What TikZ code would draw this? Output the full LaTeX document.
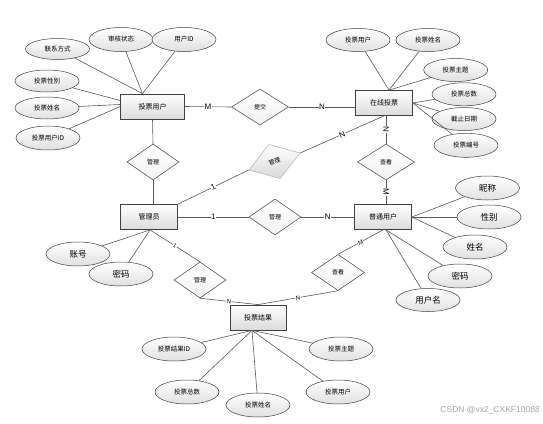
\documentclass[tikz,border=0pt]{standalone}
\usepackage{fontspec}
\setmainfont{Liberation Sans}
\newfontfamily\cjk{Noto Sans CJK SC}
\usetikzlibrary{shapes.geometric,calc}
\definecolor{lc}{HTML}{595959}
\definecolor{bc}{HTML}{404040}
\tikzset{
 ent/.style={draw=bc, line width=0.8pt, top color=white, bottom color=black!14, minimum width=57pt, minimum height=25pt, inner sep=0pt, font=\cjk\fontsize{7}{8}\selectfont},
 attr/.style={ellipse, draw=bc, line width=0.5pt, top color=white, bottom color=black!12, minimum width=64pt, minimum height=23pt, inner sep=0pt, font=\cjk\fontsize{6.5}{7}\selectfont},
 attrb/.style={attr, font=\cjk\fontsize{8.5}{9}\selectfont},
 rel/.style={diamond, draw=bc, line width=0.5pt, top color=white, bottom color=black!5, minimum width=54pt, minimum height=36pt, inner sep=0pt, font=\cjk\fontsize{6}{7}\selectfont},
 greyrel/.style={rel, draw=black!30, top color=white, bottom color=black!15},
 ln/.style={draw=lc, line width=0.6pt},
 card/.style={fill=white, inner sep=0.5pt, font=\fontsize{8}{9}\selectfont, sloped},
 cards/.style={card, font=\fontsize{6}{7}\selectfont},
}
\begin{document}
\begin{tikzpicture}[x=1pt,y=-1pt]
\path[fill=white] (0,0) rectangle (543,423);
\useasboundingbox (0,0) rectangle (543,423);

% entities
\node[ent, minimum width=64pt] (vu) at (152.5,106.5) {投票用户};
\node[ent] (zx) at (384,103) {在线投票};
\node[ent] (gly) at (149,217) {管理员};
\node[ent] (pt) at (383,217) {普通用户};
\node[ent, minimum width=56pt] (jg) at (258,317.5) {投票结果};

% relations
\node[rel, minimum width=57pt] (tj) at (260,107) {提交};
\node[rel, minimum width=52pt] (gl1) at (153,162) {管理};
\node[greyrel, rotate=18.4] (gl2) at (274.5,161.5) {管理};
\node[rel, minimum width=52pt] (gl3) at (275,217) {管理};
\node[rel, minimum width=52pt] (gl4) at (200,280) {管理};
\node[rel, minimum width=57pt] (ck1) at (386,162) {查看};
\node[rel, minimum width=53pt] (ck2) at (338,272.5) {查看};

% relationship connectors
\draw[ln] (vu.east) -- node[card]{M} (tj.west);
\draw[ln] (tj.east) -- node[card]{N} (tj.east -| zx.west);
\draw[ln] (vu.south) -- (gl1.north);
\draw[ln] (gl1.south) -- (gl1.south |- gly.north);
\draw[ln] (gly.north east) -- node[card]{1} (gl2.west);
\draw[ln] (gl2.east) -- node[card]{N} (zx.south);
\draw[ln] (gly.east) -- node[card]{1} (gl3.west);
\draw[ln] (gl3.east) -- node[card]{N} (pt.west);
\draw[ln] (ck1.north |- zx.south) -- node[card]{N} (ck1.north);
\draw[ln] (ck1.south) -- node[card]{M} (ck1.south |- pt.north);
\draw[ln] ([xshift=1pt]gly.south) -- node[cards]{1} (gl4.north);
\draw[ln] (gl4.south) -- node[cards]{N} (jg.north);
\draw[ln] (pt.south) -- node[cards]{M} (ck2.north);
\draw[ln] (ck2.south) -- node[cards]{N} (jg.north);

% attributes of 投票用户
\node[attr, minimum height=21pt] (a1) at (57.5,49) {联系方式};
\node[attr, minimum height=24pt] (a2) at (121,39.5) {审核状态};
\node[attr, minimum height=24pt] (a3) at (184,39.5) {用户ID};
\node[attr, minimum height=22pt] (a4) at (47,81) {投票性别};
\node[attr, minimum height=22pt] (a5) at (47,108) {投票姓名};
\node[attr, minimum height=24pt] (a6) at (48,138) {投票用户ID};
\draw[ln] (a1) -- ([xshift=-10pt]vu.north);
\draw[ln] (a2) -- ([xshift=-10pt]vu.north);
\draw[ln] (a3) -- ([xshift=-10pt]vu.north);
\draw[ln] (a4) -- ([yshift=6pt]vu.west);
\draw[ln] (a5) -- ([yshift=2pt]vu.west);
\draw[ln] (a6) -- (vu.west);

% attributes of 在线投票
\node[attr] (b1) at (358,40) {投票用户};
\node[attr] (b2) at (428,40) {投票姓名};
\node[attr] (b3) at (455.7,70) {投票主题};
\node[attr] (b4) at (464,94.3) {投票总数};
\node[attr] (b5) at (464,119) {截止日期};
\node[attr, minimum height=24pt] (b6) at (466,145.3) {投票编号};
\draw[ln] (b1) -- ([xshift=5pt]zx.north);
\draw[ln] (b2) -- ([xshift=5pt]zx.north);
\draw[ln] (b3) -- ([xshift=5pt]zx.north);
\draw[ln] (b4) -- (zx.east);
\draw[ln] (b5) -- (zx.east);
\draw[ln] (b6) -- (zx.east);

% attributes of 管理员
\node[attrb, minimum height=24pt] (c1) at (78,254) {账号};
\node[attrb, minimum height=24pt] (c2) at (121,274) {密码};
\draw[ln] (c1) -- ([xshift=1pt]gly.south);
\draw[ln] (c2) -- ([xshift=1pt]gly.south);

% attributes of 普通用户
\node[attrb, minimum height=24pt] (d1) at (487.5,188) {昵称};
\node[attrb, minimum height=24pt] (d2) at (489,217) {性别};
\node[attrb, minimum height=24pt] (d3) at (475,247) {姓名};
\node[attrb, minimum height=24pt] (d4) at (460,276) {密码};
\node[attrb, minimum height=23pt] (d5) at (428,300) {用户名};
\draw[ln] (d1) -- (pt.east);
\draw[ln] (d2) -- (pt.east);
\draw[ln] (d3) -- (pt.east);
\draw[ln] (d4) -- ([xshift=3pt]pt.south);
\draw[ln] (d5) -- ([xshift=3pt]pt.south);

% attributes of 投票结果
\node[attr, minimum height=24pt] (e1) at (174,349) {投票结果ID};
\node[attr, minimum height=24pt] (e2) at (341,349) {投票主题};
\node[attr, minimum height=24pt] (e3) at (187,392) {投票总数};
\node[attr, minimum height=24pt] (e4) at (258,405) {投票姓名};
\node[attr, minimum height=24pt] (e5) at (338,392) {投票用户};
\draw[ln] (e1) -- ([xshift=-6pt]jg.south);
\draw[ln] (e2) -- ([xshift=-6pt]jg.south);
\draw[ln] (e3) -- ([xshift=-6pt]jg.south);
\draw[ln] (e4) -- ([xshift=-6pt]jg.south);
\draw[ln] (e5) -- ([xshift=-6pt]jg.south);

% watermark
\node[text=black!35, font=\fontsize{8.5}{10}\selectfont, anchor=east, inner sep=0pt] (wm) at (540,410) {CSDN @vx2\_CXKF10088};
\end{tikzpicture}
\end{document}
